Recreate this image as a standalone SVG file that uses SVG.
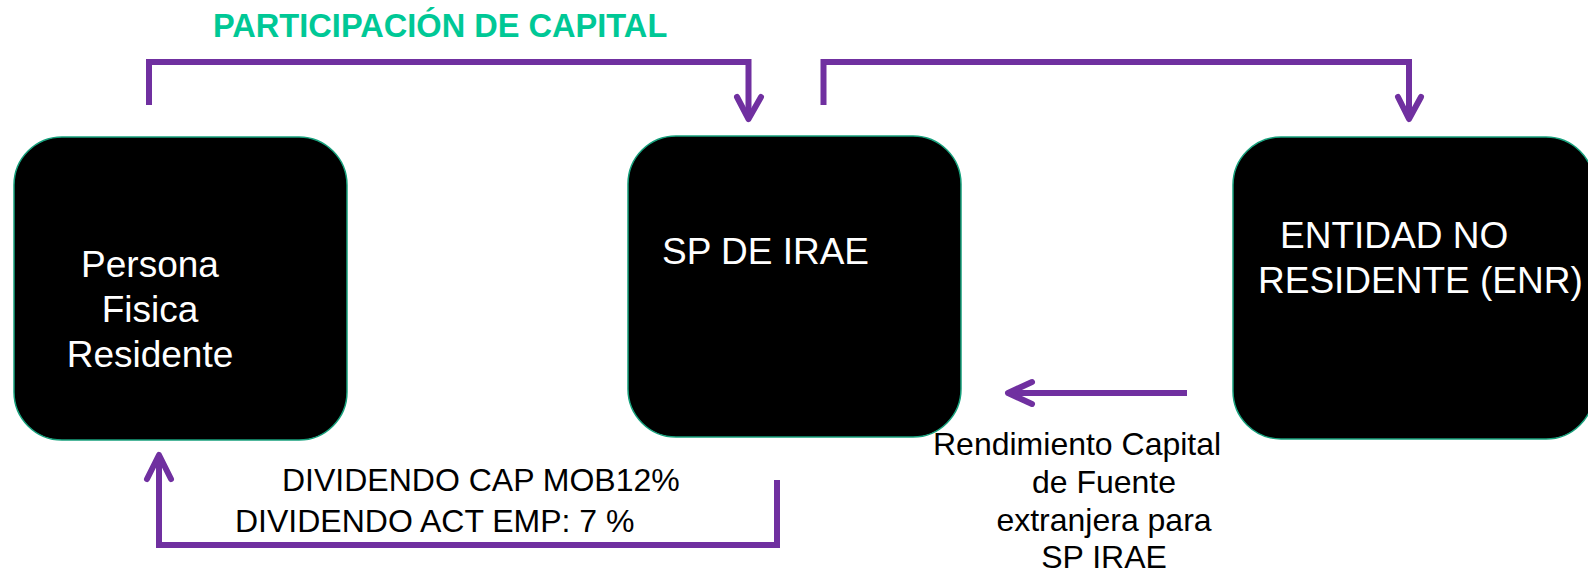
<svg xmlns="http://www.w3.org/2000/svg" width="1588" height="576" viewBox="0 0 1588 576">
  <style>
    .box { fill: #000000; stroke: #17a07c; stroke-width: 1.5; }
    .wt { font-family: "Liberation Sans", Arial, sans-serif; font-size: 37px; fill: #ffffff; }
    .bt { font-family: "Liberation Sans", Arial, sans-serif; font-size: 32px; fill: #000000; }
    .title { font-family: "Liberation Sans", Arial, sans-serif; font-size: 32.6px; font-weight: bold; fill: #00c896; }
    .conn { fill: none; stroke: #7030a0; stroke-width: 6; stroke-linejoin: miter; stroke-linecap: butt; }
    .head { fill: none; stroke: #7030a0; stroke-width: 6; stroke-linejoin: round; stroke-linecap: round; }
  </style>
  <rect width="1588" height="576" fill="#ffffff"/>

  <text class="title" x="213" y="37">PARTICIPACIÓN DE CAPITAL</text>

  <g id="node-persona">
    <rect class="box" x="14" y="137" width="333" height="303" rx="48" ry="48"/>
    <text class="wt" text-anchor="middle" x="150" y="277">Persona</text>
    <text class="wt" text-anchor="middle" x="150" y="322">Fisica</text>
    <text class="wt" text-anchor="middle" x="150" y="367">Residente</text>
  </g>

  <g id="node-sp">
    <rect class="box" x="628" y="136" width="333" height="301" rx="48" ry="48"/>
    <text class="wt" x="662" y="264">SP DE IRAE</text>
  </g>

  <g id="node-enr">
    <rect class="box" x="1233" y="137" width="361" height="302" rx="48" ry="48"/>
    <text class="wt" x="1280" y="248">ENTIDAD NO</text>
    <text class="wt" x="1258" y="293">RESIDENTE (ENR)</text>
  </g>

  <g id="connectors">
    <path class="conn" d="M149,105 V62 H748.5 V116"/>
    <polyline class="head" points="737,97 748.5,119 761,97"/>

    <path class="conn" d="M823.5,105 V62 H1409 V116"/>
    <polyline class="head" points="1398,97 1409,119 1421,97"/>

    <path class="conn" d="M777,480 V545 H159 V458"/>
    <polyline class="head" points="147,479 159,455 171,479"/>

    <path class="conn" d="M1187,393 H1011"/>
    <polyline class="head" points="1032,382 1008,393 1032,404"/>
  </g>

  <g id="labels">
    <text class="bt" x="282" y="491">DIVIDENDO CAP MOB12%</text>
    <text class="bt" x="235" y="532">DIVIDENDO ACT EMP: 7 %</text>
    <text class="bt" x="933" y="455">Rendimiento Capital</text>
    <text class="bt" text-anchor="middle" x="1104" y="493">de Fuente</text>
    <text class="bt" text-anchor="middle" x="1104" y="531">extranjera para</text>
    <text class="bt" text-anchor="middle" x="1104" y="568">SP IRAE</text>
  </g>
</svg>
